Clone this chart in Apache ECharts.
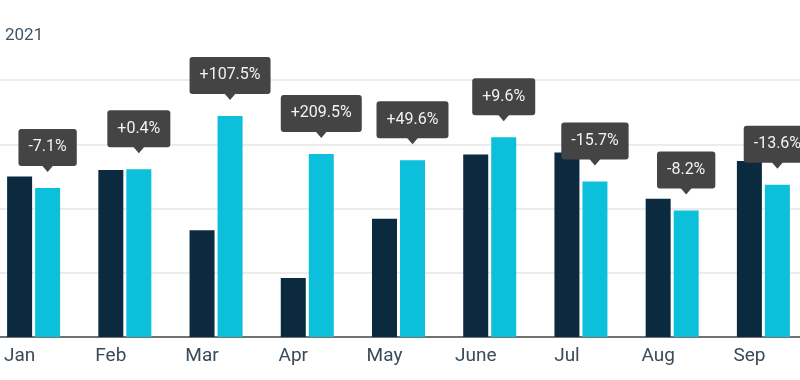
<!DOCTYPE html>
<html>
<head>
<meta charset="utf-8">
<script src="https://cdn.jsdelivr.net/npm/echarts@6/dist/echarts.min.js"></script>
<style>html,body{margin:0;padding:0;background:#fff;overflow:hidden}#c{width:821px;height:380px;margin-left:-12px}</style>
</head>
<body>
<div id="c"></div>
<script>
const months = ['Jan','Feb','Mar','Apr','May','June','Jul','Aug','Sep'];
const values2020 = [250, 260, 166, 92, 184, 284, 287, 215, 274];
const values2021 = [232, 261, 344, 285, 275, 311, 242, 197, 237];
const changeLabels = ['-7.1%','+0.4%','+107.5%','+209.5%','+49.6%','+9.6%','-15.7%','-8.2%','-13.6%'];
const legendText = '2021';

const DARK = '#0b2a40';
const CYAN = '#0cc0dc';
const BOX = '#444444';

const chart = echarts.init(document.getElementById('c'), null, {renderer:'canvas'});
chart.setOption({
  animation:false,
  title:{text:legendText,left:12,top:22,textStyle:{fontFamily:'Roboto',fontSize:17,fontWeight:'normal',color:'#3d5566'}},
  grid:{left:0,right:0,top:80,bottom:43,containLabel:false},
  xAxis:{type:'category',data:months,
    axisTick:{show:false},
    axisLine:{lineStyle:{color:'#4a4a4a',width:1.5}},
    axisLabel:{fontFamily:'Roboto',fontSize:19,color:'#3b4b57',margin:10,padding:[0,28,0,0]}},
  yAxis:{type:'value',min:0,max:400,interval:100,
    axisLabel:{show:false},axisLine:{show:false},axisTick:{show:false},
    splitLine:{lineStyle:{color:'#e6e6e6',width:1.5}}},
  series:[
    {type:'bar',data:values2020,barWidth:25,barGap:'12%',itemStyle:{color:DARK}},
    {type:'bar',data:values2021,barWidth:25,barGap:'12%',itemStyle:{color:CYAN}},
    {type:'custom',z:10,
     data:values2021.map((v,i)=>[i,v]),
     renderItem:function(params,api){
       const idx=api.value(0), v=api.value(1);
       const p=api.coord([idx,v]);
       const cx=p[0]+14;
       const tip=p[1]-16;
       const th=6, tw=6;
       return {type:'group',children:[
         {type:'polygon',shape:{points:[[cx-tw,tip-th-1],[cx+tw,tip-th-1],[cx,tip]]},style:{fill:BOX}},
         {type:'text',x:cx,y:tip-th,style:{text:changeLabels[idx],fill:'#f2f2f2',
           font:'16px Roboto',lineHeight:19,align:'center',verticalAlign:'bottom',
           backgroundColor:BOX,padding:[9,10,9,10],borderRadius:3}}
       ]};
     }}
  ]
});
</script>
</body>
</html>
